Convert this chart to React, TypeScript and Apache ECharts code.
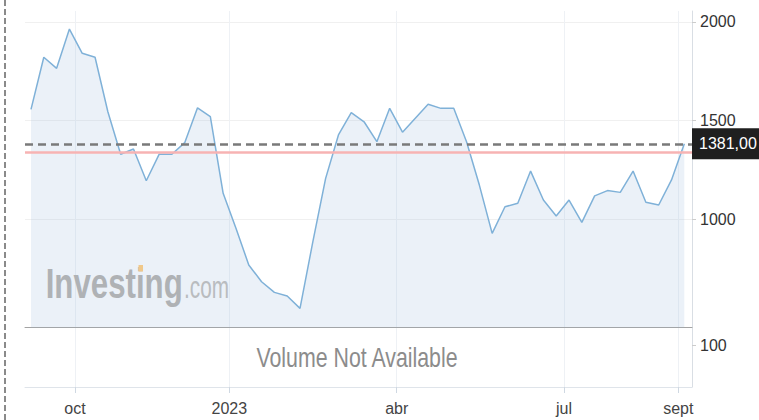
import React, { useEffect, useRef } from 'react';
import * as echarts from 'echarts';

// Weekly closing prices (index 0 = first week shown)
const prices = [
  1556, 1820, 1764, 1963, 1840, 1820, 1544, 1328, 1355, 1194,
  1328, 1328, 1387, 1564, 1519, 1130, 953, 767, 682, 628,
  610, 547, 884, 1206, 1426, 1539, 1493, 1392, 1561, 1440,
  1511, 1582, 1561, 1561, 1392, 1172, 927, 1062, 1080, 1243,
  1096, 1015, 1096, 983, 1117, 1144, 1135, 1243, 1085, 1071,
  1198, 1381,
];

// x-axis tick positions (in week units) and their labels
const xTickPositions = [3.43, 15.48, 28.55, 41.61, 50.53];
const xTickLabels = ['oct', '2023', 'abr', 'jul', 'sept'];

const priceTicks = [1000, 1500, 2000];
const volumeTicks = [100];

const lastPrice = 1381;
const lastPriceLabel = '1381,00';
const referenceLevel = 1340;

const FONT = "'Liberation Sans', Arial, sans-serif";

const X_MIN = -0.468;
const X_MAX = 51.6;

export default function App() {
  const ref = useRef<HTMLDivElement>(null);

  useEffect(() => {
    if (!ref.current) return;
    const chart = echarts.init(ref.current, undefined, { renderer: 'svg' });

    const xLabel = (v: number) => {
      const idx = xTickPositions.findIndex((p) => Math.abs(p - v) < 1e-6);
      return idx >= 0 ? xTickLabels[idx] : '';
    };
    const yLabel = (v: number) => String(v);

    const option: any = {
      animation: false,
      grid: [
        { left: 25, right: 67, top: 11, height: 316.5, outerBoundsMode: 'none', containLabel: false },
        { left: 25, right: 67, top: 327.5, height: 59.5, outerBoundsMode: 'none', containLabel: false },
      ],
      xAxis: [
        {
          type: 'value', gridIndex: 0, min: X_MIN, max: X_MAX,
          axisLine: { show: true, onZero: false, lineStyle: { color: '#a3a3a3', width: 1 } },
          axisTick: { show: false, customValues: xTickPositions },
          axisLabel: { show: false, customValues: xTickPositions },
          splitLine: { show: true, lineStyle: { color: '#eef1f5', width: 1 } },
        },
        {
          type: 'value', gridIndex: 1, min: X_MIN, max: X_MAX,
          axisLine: { show: true, onZero: false, lineStyle: { color: '#dfe4ea', width: 1 } },
          axisTick: { show: true, length: 6, customValues: xTickPositions, lineStyle: { color: '#cfd8e2' } },
          axisLabel: {
            customValues: xTickPositions, formatter: xLabel, color: '#444',
            fontFamily: FONT, fontSize: 16, margin: 13,
          },
          splitLine: { show: true, lineStyle: { color: '#eef1f5', width: 1 } },
        },
      ],
      yAxis: [
        {
          type: 'value', gridIndex: 0, position: 'right', min: 449.9, max: 2054.6,
          axisLine: { show: true, onZero: false, lineStyle: { color: '#d9dee4' } },
          axisTick: { show: true, length: 4, customValues: priceTicks, lineStyle: { color: '#cccccc' } },
          axisLabel: {
            customValues: priceTicks, formatter: yLabel, color: '#333',
            fontFamily: FONT, fontSize: 16, margin: 8,
          },
          splitLine: { show: true, lineStyle: { color: '#f0f0f0' } },
        },
        {
          type: 'value', gridIndex: 1, position: 'right', min: 0, max: 141.7,
          axisLine: { show: true, onZero: false, lineStyle: { color: '#d9dee4' } },
          axisTick: { show: true, length: 4, customValues: volumeTicks, lineStyle: { color: '#cccccc' } },
          axisLabel: {
            customValues: volumeTicks, formatter: yLabel, color: '#333',
            fontFamily: FONT, fontSize: 16, margin: 8,
          },
          splitLine: { show: false },
        },
      ],
      series: [
        {
          type: 'line', xAxisIndex: 0, yAxisIndex: 0,
          data: prices.map((v, i) => [i, v]),
          symbol: 'none', showSymbol: false,
          lineStyle: { color: '#7fb1d8', width: 1.5 },
          areaStyle: { color: 'rgba(160,190,222,0.3)', origin: 'start' },
          z: 2,
          markLine: {
            silent: true, symbol: ['none', 'none'], animation: false,
            data: [
              {
                yAxis: referenceLevel,
                lineStyle: { color: '#f7b3b3', width: 2.5, type: 'solid' },
                label: { show: false },
              },
              {
                yAxis: lastPrice,
                lineStyle: { color: '#7a7a7a', width: 2.5, type: [8, 5] },
                label: {
                  show: true, position: 'end', distance: 0, formatter: lastPriceLabel,
                  color: '#ffffff', backgroundColor: '#1f1f1f', padding: [8, 12, 7, 7],
                  fontFamily: FONT, fontSize: 16,
                },
              },
            ],
          },
        },
      ],
      graphic: [
        {
          type: 'line', shape: { x1: 5, y1: 0, x2: 5, y2: 420 },
          style: { stroke: '#8a8a8a', lineWidth: 2, lineDash: [6, 3] },
        },
        {
          type: 'text', x: 45.7, y: 283.5, scaleX: 0.726, z: 10,
          style: {
            text: 'Investing', font: `bold 43px ${FONT}`, fill: '#afb2b5',
            verticalAlign: 'middle', textVerticalAlign: 'middle',
          },
        },
        {
          type: 'text', x: 184, y: 287.3, scaleX: 0.67, z: 10,
          style: {
            text: '.com', font: `31px ${FONT}`, fill: '#b9bcbf',
            verticalAlign: 'middle', textVerticalAlign: 'middle',
          },
        },
        {
          type: 'rect', z: 11, shape: { x: 138.5, y: 265, width: 4.5, height: 6.5 },
          style: { fill: '#f0c88a' },
        },
        {
          type: 'text', x: 357, y: 357.3, scaleX: 0.79, z: 10,
          style: {
            text: 'Volume Not Available', font: `27px ${FONT}`, fill: '#8c8c8c',
            align: 'center', textAlign: 'center', verticalAlign: 'middle', textVerticalAlign: 'middle',
          },
        },
      ],
    };

    chart.setOption(option);
    return () => chart.dispose();
  }, []);

  return (
    <div
      ref={ref}
      style={{ position: 'fixed', left: 0, top: 0, width: 759, height: 420, background: '#ffffff' }}
    />
  );
}
